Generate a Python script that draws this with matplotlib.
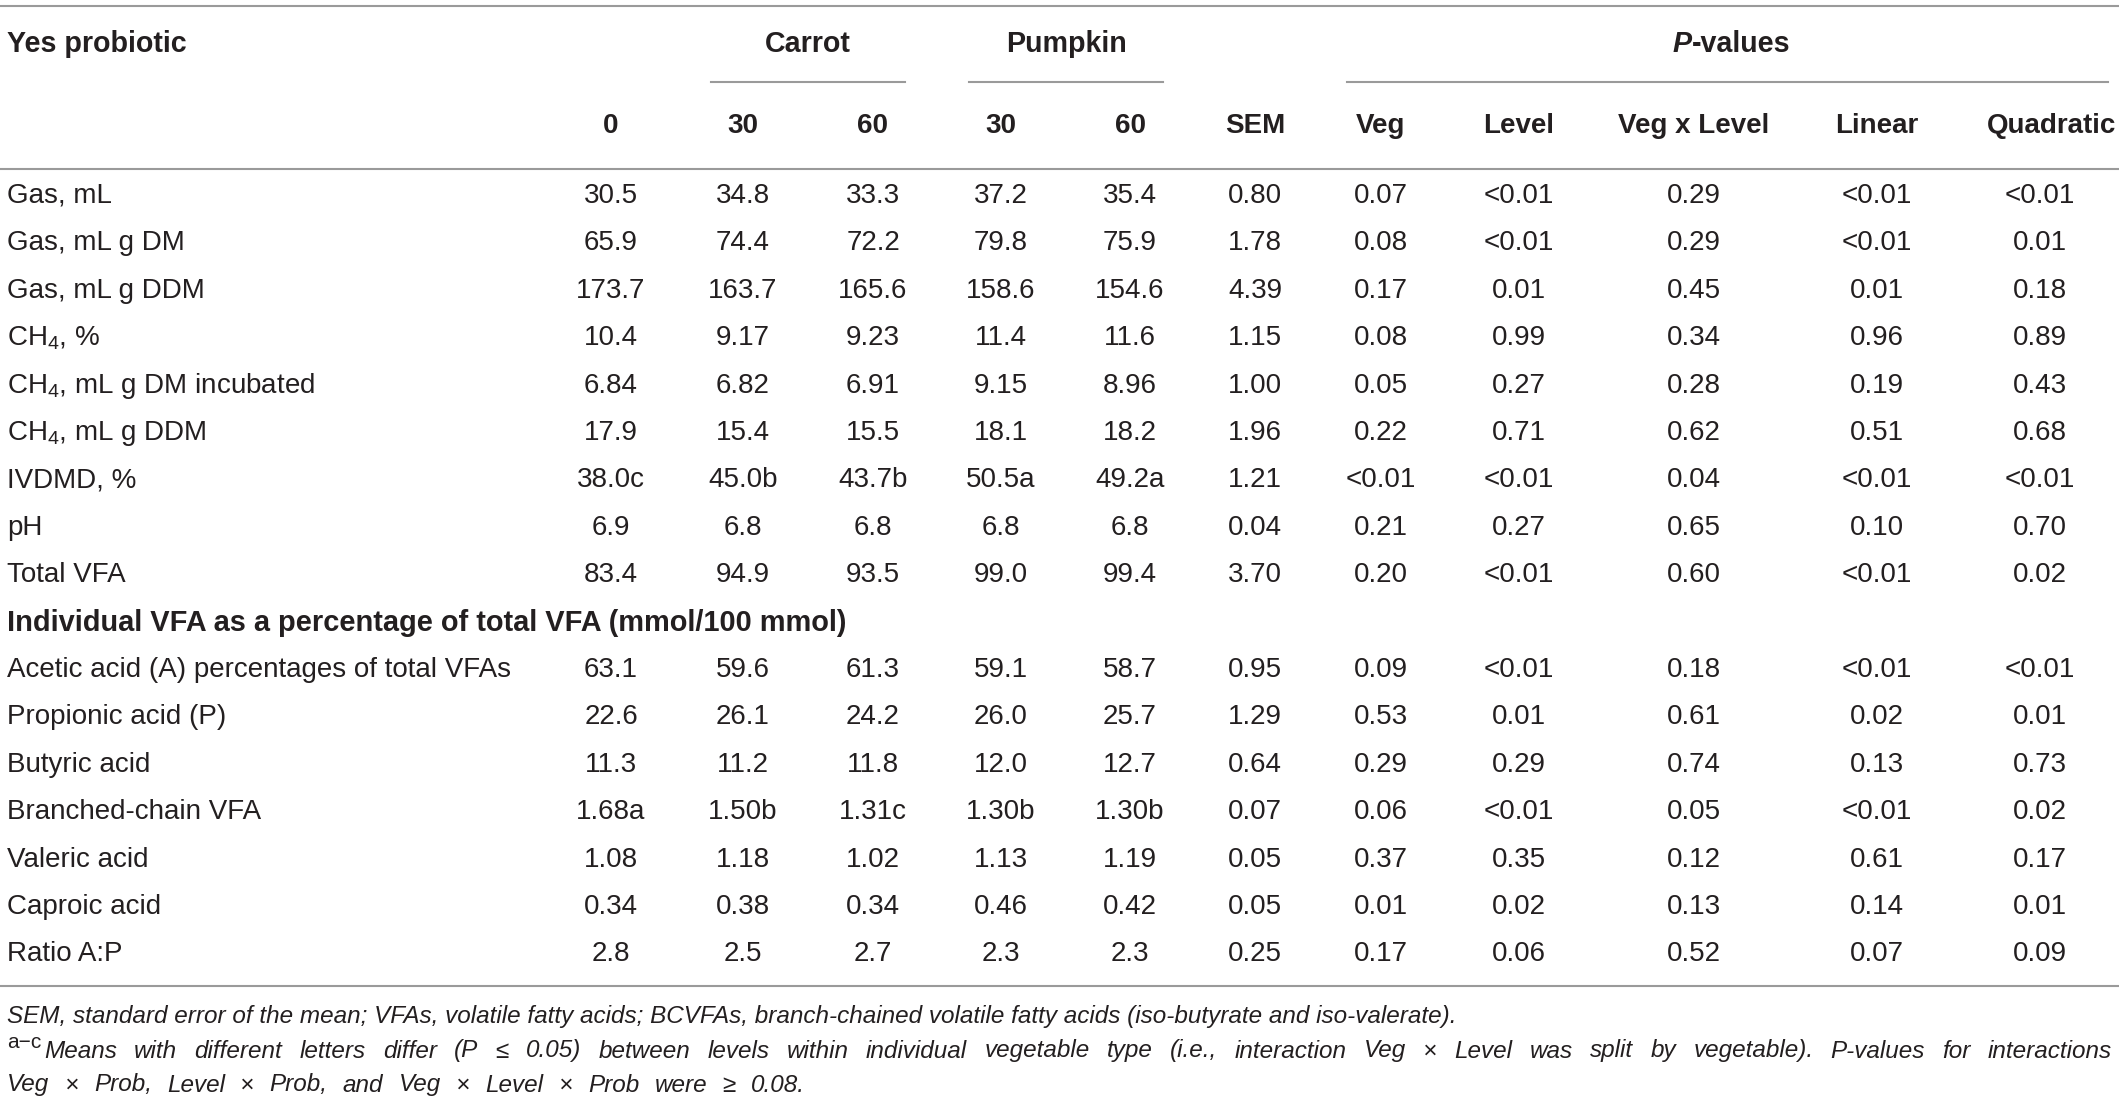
import matplotlib
matplotlib.use("Agg")
from matplotlib import pyplot as plt

# table content
row_labels = ["Gas, mL", "Gas, mL g DM", "Gas, mL g DDM", "CH$_4$, %",
              "CH$_4$, mL g DM incubated", "CH$_4$, mL g DDM", "IVDMD, %", "pH",
              "Total VFA", "Acetic acid (A) percentages of total VFAs",
              "Propionic acid (P)", "Butyric acid", "Branched-chain VFA",
              "Valeric acid", "Caproic acid", "Ratio A:P"]
section_title = "Individual VFA as a percentage of total VFA (mmol/100 mmol)"
section_after = 9  # section row comes after "Total VFA"

col_headers = ["0", "30", "60", "30", "60", "SEM", "Veg", "Level", "Veg x Level", "Linear", "Quadratic"]
group_headers = ["Carrot", "Pumpkin"]

ctrl_0 = ["30.5", "65.9", "173.7", "10.4", "6.84", "17.9", "38.0c", "6.9", "83.4",
          "63.1", "22.6", "11.3", "1.68a", "1.08", "0.34", "2.8"]
carrot_30 = ["34.8", "74.4", "163.7", "9.17", "6.82", "15.4", "45.0b", "6.8", "94.9",
             "59.6", "26.1", "11.2", "1.50b", "1.18", "0.38", "2.5"]
carrot_60 = ["33.3", "72.2", "165.6", "9.23", "6.91", "15.5", "43.7b", "6.8", "93.5",
             "61.3", "24.2", "11.8", "1.31c", "1.02", "0.34", "2.7"]
pumpkin_30 = ["37.2", "79.8", "158.6", "11.4", "9.15", "18.1", "50.5a", "6.8", "99.0",
              "59.1", "26.0", "12.0", "1.30b", "1.13", "0.46", "2.3"]
pumpkin_60 = ["35.4", "75.9", "154.6", "11.6", "8.96", "18.2", "49.2a", "6.8", "99.4",
              "58.7", "25.7", "12.7", "1.30b", "1.19", "0.42", "2.3"]
sem = ["0.80", "1.78", "4.39", "1.15", "1.00", "1.96", "1.21", "0.04", "3.70",
       "0.95", "1.29", "0.64", "0.07", "0.05", "0.05", "0.25"]
p_veg = ["0.07", "0.08", "0.17", "0.08", "0.05", "0.22", "<0.01", "0.21", "0.20",
         "0.09", "0.53", "0.29", "0.06", "0.37", "0.01", "0.17"]
p_level = ["<0.01", "<0.01", "0.01", "0.99", "0.27", "0.71", "<0.01", "0.27", "<0.01",
           "<0.01", "0.01", "0.29", "<0.01", "0.35", "0.02", "0.06"]
p_veg_level = ["0.29", "0.29", "0.45", "0.34", "0.28", "0.62", "0.04", "0.65", "0.60",
               "0.18", "0.61", "0.74", "0.05", "0.12", "0.13", "0.52"]
p_linear = ["<0.01", "<0.01", "0.01", "0.96", "0.19", "0.51", "<0.01", "0.10", "<0.01",
            "<0.01", "0.02", "0.13", "<0.01", "0.61", "0.14", "0.07"]
p_quad = ["<0.01", "0.01", "0.18", "0.89", "0.43", "0.68", "<0.01", "0.70", "0.02",
          "<0.01", "0.01", "0.73", "0.02", "0.17", "0.01", "0.09"]

columns = [ctrl_0, carrot_30, carrot_60, pumpkin_30, pumpkin_60, sem,
           p_veg, p_level, p_veg_level, p_linear, p_quad]

foot1 = ("SEM, standard error of the mean; VFAs, volatile fatty acids; BCVFAs, "
         "branch-chained volatile fatty acids (iso-butyrate and iso-valerate).")
foot2 = ("Means with different letters differ (P \u2264 0.05) between levels within individual "
         "vegetable type (i.e., interaction Veg \u00d7 Level was split by vegetable). "
         "P-values for interactions")
foot3 = "Veg \u00d7 Prob, Level \u00d7 Prob, and Veg \u00d7 Level \u00d7 Prob were \u2265 0.08."

# fonts
plt.rcParams['font.family'] = ["Liberation Sans", "DejaVu Sans"]
plt.rcParams['mathtext.fontset'] = 'custom'
plt.rcParams['mathtext.rm'] = 'Liberation Sans'
plt.rcParams['mathtext.it'] = 'Liberation Sans:italic'
plt.rcParams['mathtext.bf'] = 'Liberation Sans:bold'

W, H = 2119, 1110
col_x = [611, 743, 873, 1001, 1130, 1255, 1381, 1519, 1694, 1877, 2040]
head_x = [611, 743, 873, 1001, 1130, 1255, 1381, 1519, 1694, 1877, 2052]
txt = "#231f20"
line_c = "#9a9a9a"
fs = 20

fig = plt.figure(figsize=(W / 100, H / 100), dpi=100)
ax = fig.add_axes([0, 0, 1, 1])
ax.set_xlim(0, W)
ax.set_ylim(H, 0)
ax.axis("off")
renderer = fig.canvas.get_renderer()

# rules
ax.plot([0, W], [6, 6], color=line_c, lw=1.5)
ax.plot([711, 905], [82, 82], color=line_c, lw=1.5)
ax.plot([969, 1163], [82, 82], color=line_c, lw=1.5)
ax.plot([1347, 2108], [82, 82], color=line_c, lw=1.5)
ax.plot([0, W], [169, 169], color=line_c, lw=1.5)
ax.plot([0, W], [986, 986], color=line_c, lw=1.5)

# headers
hy1, hy2 = 44, 126
ax.text(7, hy1, "Yes probiotic", fontsize=fs + 0.6, fontweight="bold", color=txt, va="center")
ax.text(808, hy1, group_headers[0], fontsize=fs + 0.6, fontweight="bold", color=txt, va="center", ha="center")
ax.text(1066, hy1, group_headers[1], fontsize=fs + 0.6, fontweight="bold", color=txt, va="center", ha="center")
ax.text(1692, hy1, "P", fontsize=fs + 0.6, fontweight="bold", style="italic", color=txt, va="center", ha="right")
ax.text(1692, hy1, "-values", fontsize=fs + 0.6, fontweight="bold", color=txt, va="center", ha="left")
for x, h in zip(head_x, col_headers):
    ax.text(x, hy2, h, fontsize=fs, fontweight="bold", color=txt, va="center", ha="center")

# body
y0, dy = 196, 47.4
for i, lab in enumerate(row_labels):
    r = i if i < section_after else i + 1
    y = y0 + r * dy
    ax.text(7, y, lab, fontsize=fs, color=txt, va="center")
    for x, col in zip(col_x, columns):
        ax.text(x, y, col[i], fontsize=fs, color=txt, va="center", ha="center")
ax.text(7, y0 + section_after * dy, section_title, fontsize=fs + 0.9, fontweight="bold",
        color=txt, va="center")


# footnotes: words spread so a line spans the same width as in the source
def spread_line(text, x0, x1, y, size):
    words = text.split(" ")
    objs = [ax.text(0, y, w, fontsize=size, style="italic", color=txt, va="center")
            for w in words]
    widths = [o.get_window_extent(renderer).width for o in objs]
    gap = (x1 - x0 - sum(widths)) / (len(words) - 1)
    x = x0
    for o, w in zip(objs, widths):
        o.set_x(x)
        x += w + gap


ffs = 17.5
ax.text(7, 1016, foot1, fontsize=ffs, style="italic", color=txt, va="center")
ax.text(7, 1042, "a\u2212c", fontsize=15, color=txt, va="center")
spread_line(foot2, 44, 2112, 1051, ffs)
spread_line(foot3, 7, 805, 1085, ffs)

fig.savefig("out.png", dpi=100, facecolor="white")
